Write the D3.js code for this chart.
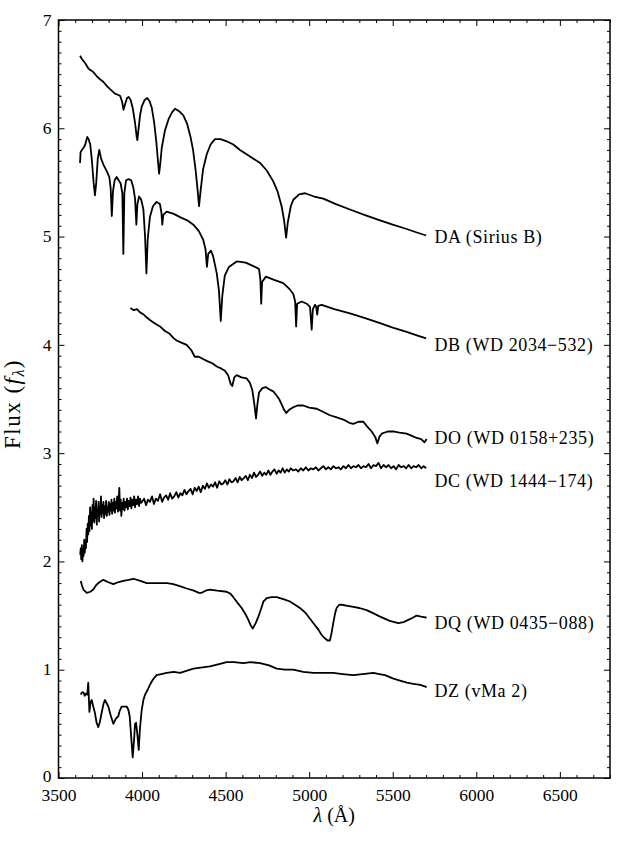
<!DOCTYPE html>
<html>
<head>
<meta charset="utf-8">
<script src="https://cdn.jsdelivr.net/npm/d3@7"></script>
<style>
  body { margin: 0; background: #fff; }
  text { font-family: "Liberation Serif", "DejaVu Serif", serif; fill: #000; }
</style>
</head>
<body>
<div id="chart"></div>
<script>
const width = 622;
const height = 848;
const margin = { top: 20, right: 12, bottom: 70, left: 58.5 };

// SPECTRA: [wavelength (Å), flux]
const daSpectrum = [
  [3629,6.67],[3640,6.64],[3660,6.60],[3680,6.55],[3708,6.52],[3730,6.48],[3750,6.45],[3768,6.43],
  [3790,6.39],[3810,6.36],[3838,6.32],[3855,6.31],[3868,6.30],[3880,6.25],[3889,6.17],[3898,6.22],
  [3910,6.28],[3920,6.29],[3932,6.26],[3945,6.18],[3958,6.05],[3968,5.92],[3972,5.89],[3978,5.98],
  [3988,6.12],[3998,6.20],[4015,6.26],[4031,6.28],[4045,6.25],[4058,6.19],[4072,6.06],[4085,5.88],
  [4095,5.70],[4102,5.58],[4108,5.66],[4118,5.82],[4137,5.98],[4160,6.09],[4180,6.15],[4197,6.18],
  [4220,6.16],[4247,6.12],[4270,6.04],[4290,5.92],[4305,5.80],[4320,5.62],[4333,5.42],[4341,5.28],
  [4350,5.42],[4365,5.62],[4387,5.76],[4410,5.85],[4436,5.90],[4470,5.90],[4506,5.88],[4546,5.85],
  [4586,5.80],[4646,5.74],[4706,5.68],[4746,5.61],[4785,5.51],[4810,5.42],[4835,5.28],[4850,5.15],
  [4862,4.99],[4872,5.13],[4890,5.28],[4905,5.34],[4940,5.39],[4975,5.40],[5030,5.37],[5084,5.35],
  [5160,5.30],[5244,5.25],[5330,5.20],[5424,5.15],[5500,5.11],[5583,5.07],[5640,5.04],[5700,5.01]
];

const dbSpectrum = [
  [3629,5.68],[3632,5.78],[3640,5.80],[3650,5.82],[3660,5.85],[3672,5.92],[3680,5.90],[3690,5.85],
  [3700,5.70],[3710,5.50],[3718,5.38],[3726,5.50],[3735,5.72],[3744,5.80],[3755,5.72],[3770,5.66],
  [3790,5.60],[3804,5.55],[3812,5.45],[3819,5.19],[3826,5.42],[3836,5.52],[3848,5.55],[3860,5.52],
  [3872,5.49],[3882,5.40],[3888,4.84],[3894,5.40],[3904,5.52],[3920,5.53],[3935,5.52],[3948,5.45],
  [3958,5.35],[3966,5.11],[3972,5.30],[3982,5.37],[3995,5.34],[4008,5.25],[4018,5.00],[4026,4.66],
  [4034,4.98],[4047,5.18],[4065,5.28],[4087,5.32],[4107,5.30],[4116,5.22],[4121,5.11],[4127,5.20],
  [4147,5.23],[4190,5.21],[4227,5.18],[4270,5.15],[4307,5.11],[4340,5.05],[4366,4.97],[4380,4.88],
  [4388,4.72],[4396,4.84],[4412,4.87],[4425,4.82],[4447,4.66],[4460,4.50],[4471,4.22],[4480,4.45],
  [4495,4.64],[4520,4.72],[4566,4.77],[4620,4.76],[4676,4.72],[4700,4.70],[4708,4.60],[4713,4.38],
  [4718,4.58],[4741,4.63],[4790,4.60],[4845,4.57],[4880,4.52],[4905,4.47],[4916,4.40],[4922,4.17],
  [4928,4.38],[4955,4.40],[4985,4.38],[5005,4.35],[5015,4.14],[5022,4.33],[5035,4.37],[5042,4.35],
  [5048,4.28],[5054,4.36],[5075,4.37],[5150,4.33],[5244,4.29],[5330,4.25],[5424,4.20],[5500,4.16],
  [5583,4.12],[5640,4.09],[5700,4.06]
];

const doSpectrum = [
  [3930,4.34],[3950,4.32],[3970,4.33],[3988,4.30],[4010,4.28],[4030,4.25],[4047,4.23],[4075,4.20],
  [4107,4.17],[4135,4.13],[4167,4.10],[4190,4.06],[4207,4.04],[4235,4.02],[4267,4.00],[4295,3.95],
  [4315,3.89],[4340,3.89],[4365,3.87],[4390,3.85],[4420,3.83],[4447,3.80],[4475,3.78],[4496,3.76],
  [4515,3.72],[4530,3.64],[4540,3.62],[4552,3.70],[4566,3.72],[4595,3.70],[4626,3.69],[4645,3.65],
  [4660,3.58],[4672,3.45],[4682,3.32],[4690,3.45],[4700,3.56],[4720,3.60],[4740,3.61],[4760,3.59],
  [4785,3.57],[4806,3.53],[4820,3.50],[4835,3.45],[4850,3.40],[4862,3.37],[4880,3.40],[4900,3.42],
  [4930,3.44],[4965,3.44],[5000,3.42],[5045,3.41],[5085,3.38],[5124,3.35],[5165,3.33],[5204,3.31],
  [5240,3.28],[5264,3.27],[5295,3.29],[5324,3.29],[5345,3.25],[5374,3.20],[5395,3.15],[5408,3.09],
  [5420,3.15],[5434,3.18],[5470,3.20],[5503,3.20],[5540,3.19],[5583,3.18],[5615,3.16],[5643,3.14],
  [5670,3.13],[5690,3.10],[5703,3.13]
];

const dcSpectrum = [
  [3630,2.06],[3633,2.12],[3636,2.02],[3640,2.15],[3643,2.00],[3647,2.10],[3650,2.05],[3654,2.20],
  [3657,2.08],[3661,2.18],[3664,2.12],[3668,2.30],[3671,2.18],[3675,2.35],[3678,2.25],[3682,2.42],
  [3685,2.28],[3689,2.50],[3692,2.33],[3696,2.45],[3700,2.30],[3703,2.52],[3707,2.38],[3710,2.58],
  [3714,2.36],[3718,2.50],[3721,2.40],[3725,2.56],[3729,2.34],[3732,2.48],[3736,2.42],[3740,2.55],
  [3743,2.37],[3747,2.50],[3751,2.44],[3754,2.60],[3758,2.41],[3762,2.52],[3765,2.45],[3769,2.55],
  [3773,2.40],[3777,2.51],[3781,2.44],[3785,2.56],[3789,2.42],[3793,2.50],[3797,2.46],[3801,2.55],
  [3805,2.43],[3809,2.53],[3813,2.47],[3817,2.57],[3821,2.44],[3826,2.54],[3830,2.47],[3834,2.58],
  [3838,2.45],[3843,2.55],[3847,2.49],[3851,2.60],[3856,2.46],[3860,2.56],[3864,2.68],[3868,2.47],
  [3872,2.57],[3876,2.42],[3881,2.54],[3885,2.48],[3890,2.58],[3895,2.47],[3900,2.55],[3905,2.50],
  [3910,2.58],[3915,2.48],[3920,2.56],[3926,2.51],[3931,2.59],[3936,2.49],[3942,2.57],[3947,2.52],
  [3953,2.60],[3958,2.50],[3964,2.57],[3970,2.53],[3976,2.60],[3982,2.51],[3988,2.58],[3994,2.54],
  [4000,2.55],[4012,2.58],[4024,2.52],[4035,2.57],[4047,2.55],[4060,2.60],[4071,2.53],[4083,2.58],
  [4095,2.56],[4108,2.62],[4120,2.55],[4131,2.59],[4144,2.61],[4156,2.57],[4168,2.63],[4180,2.58],
  [4192,2.60],[4205,2.64],[4217,2.59],[4229,2.63],[4241,2.61],[4254,2.66],[4266,2.62],[4278,2.65],
  [4290,2.67],[4303,2.62],[4315,2.68],[4327,2.65],[4339,2.69],[4351,2.64],[4364,2.70],[4376,2.67],
  [4388,2.72],[4400,2.68],[4413,2.71],[4425,2.69],[4437,2.73],[4449,2.68],[4462,2.74],[4474,2.71],
  [4486,2.72],[4498,2.75],[4511,2.71],[4523,2.76],[4535,2.73],[4547,2.74],[4560,2.77],[4572,2.73],
  [4584,2.78],[4596,2.75],[4609,2.77],[4621,2.79],[4633,2.75],[4645,2.80],[4658,2.77],[4670,2.82],
  [4682,2.78],[4694,2.80],[4707,2.83],[4719,2.79],[4731,2.82],[4743,2.80],[4756,2.84],[4768,2.80],
  [4780,2.83],[4792,2.85],[4805,2.81],[4817,2.84],[4829,2.82],[4841,2.86],[4854,2.82],[4866,2.85],
  [4878,2.83],[4890,2.86],[4903,2.84],[4920,2.85],[4935,2.83],[4950,2.86],[4965,2.84],[4980,2.87],
  [4995,2.84],[5010,2.86],[5025,2.85],[5040,2.87],[5055,2.84],[5070,2.86],[5085,2.88],[5100,2.85],
  [5115,2.87],[5130,2.85],[5145,2.88],[5160,2.86],[5175,2.87],[5190,2.85],[5205,2.88],[5220,2.86],
  [5235,2.89],[5250,2.86],[5265,2.88],[5280,2.87],[5295,2.89],[5310,2.86],[5325,2.88],[5340,2.87],
  [5355,2.90],[5370,2.86],[5385,2.89],[5400,2.88],[5415,2.91],[5430,2.86],[5445,2.89],[5460,2.87],
  [5475,2.89],[5490,2.86],[5505,2.88],[5520,2.85],[5535,2.89],[5550,2.87],[5565,2.88],[5580,2.86],
  [5595,2.89],[5610,2.86],[5625,2.88],[5640,2.87],[5655,2.89],[5670,2.86],[5685,2.88],[5700,2.86]
];

const dqSpectrum = [
  [3633,1.82],[3640,1.78],[3649,1.74],[3669,1.71],[3690,1.72],[3708,1.74],[3725,1.78],[3738,1.80],
  [3768,1.83],[3795,1.81],[3828,1.79],[3860,1.81],[3888,1.82],[3920,1.83],[3948,1.84],[3990,1.82],
  [4028,1.80],[4070,1.80],[4107,1.80],[4150,1.80],[4187,1.79],[4230,1.77],[4267,1.75],[4310,1.73],
  [4340,1.71],[4357,1.71],[4380,1.73],[4406,1.74],[4450,1.73],[4506,1.72],[4530,1.70],[4546,1.67],
  [4570,1.62],[4596,1.57],[4620,1.51],[4636,1.46],[4650,1.41],[4662,1.38],[4680,1.43],[4696,1.49],
  [4712,1.56],[4726,1.63],[4746,1.66],[4775,1.67],[4806,1.67],[4850,1.65],[4885,1.63],[4915,1.60],
  [4945,1.57],[4975,1.53],[5005,1.47],[5030,1.42],[5055,1.37],[5075,1.32],[5094,1.29],[5110,1.27],
  [5124,1.27],[5134,1.34],[5144,1.43],[5155,1.52],[5164,1.57],[5180,1.60],[5194,1.60],[5230,1.59],
  [5264,1.58],[5300,1.57],[5344,1.55],[5385,1.52],[5424,1.49],[5455,1.47],[5483,1.45],[5510,1.44],
  [5533,1.43],[5565,1.44],[5593,1.46],[5620,1.48],[5643,1.50],[5670,1.49],[5703,1.48]
];

const dzSpectrum = [
  [3633,0.77],[3640,0.79],[3649,0.79],[3657,0.76],[3665,0.78],[3672,0.77],[3678,0.88],[3685,0.61],
  [3692,0.70],[3699,0.72],[3708,0.66],[3718,0.60],[3728,0.51],[3738,0.47],[3748,0.52],[3758,0.60],
  [3770,0.69],[3778,0.72],[3788,0.69],[3798,0.66],[3812,0.58],[3828,0.50],[3840,0.54],[3850,0.56],
  [3858,0.57],[3866,0.62],[3878,0.66],[3895,0.66],[3908,0.66],[3918,0.63],[3926,0.57],[3934,0.40],
  [3944,0.19],[3952,0.35],[3958,0.50],[3964,0.51],[3972,0.40],[3980,0.26],[3987,0.45],[3998,0.63],
  [4008,0.72],[4018,0.77],[4032,0.81],[4047,0.86],[4065,0.91],[4087,0.95],[4115,0.96],[4147,0.97],
  [4190,0.98],[4227,0.97],[4265,0.99],[4307,1.01],[4350,1.02],[4406,1.03],[4455,1.05],[4506,1.07],
  [4550,1.07],[4606,1.06],[4650,1.07],[4706,1.06],[4760,1.04],[4806,1.01],[4855,1.00],[4905,1.00],
  [4965,0.98],[5025,0.97],[5085,0.97],[5144,0.97],[5200,0.96],[5264,0.95],[5320,0.96],[5384,0.97],
  [5420,0.96],[5454,0.95],[5500,0.92],[5543,0.90],[5585,0.88],[5623,0.87],[5665,0.86],[5703,0.84]
];

const spectra = [daSpectrum, dbSpectrum, doSpectrum, dcSpectrum, dqSpectrum, dzSpectrum];
const labelNames = ["DA (Sirius B)", "DB (WD 2034\u2212532)", "DO (WD 0158+235)",
  "DC (WD 1444\u2212174)", "DQ (WD 0435\u2212088)", "DZ (vMa 2)"];
const labelWave = [5750, 5750, 5750, 5750, 5750, 5750];
const labelFlux = [5.00, 4.00, 3.14, 2.75, 1.43, 0.81];

const xTicks = [3500, 4000, 4500, 5000, 5500, 6000, 6500];
const yTicks = [0, 1, 2, 3, 4, 5, 6, 7];

const svg = d3.select("#chart")
  .append("svg")
  .attr("width", width)
  .attr("height", height);

const x = d3.scaleLinear().domain([3500, 6800]).range([margin.left, width - margin.right]);
const y = d3.scaleLinear().domain([0, 7]).range([height - margin.bottom, margin.top]);

const x0 = x.range()[0], x1 = x.range()[1];
const y0 = y.range()[0], y1 = y.range()[1];

// МИНОРНЫЕ ТИКИ
const xMinor = d3.range(3500, 6801, 100).filter(v => v % 500 !== 0);
const yMinor = d3.range(0, 71, 1).map(v => v / 10).filter((v, i) => i % 10 !== 0);

function styleAxis(g) {
  g.select(".domain").remove();
  g.selectAll(".tick line").attr("stroke", "#000").attr("stroke-width", 1);
  g.selectAll(".tick text").style("font-size", "17.5px").attr("fill", "#000");
}

svg.append("g").attr("transform", `translate(0,${y0})`)
  .call(d3.axisBottom(x).tickValues(xTicks).tickFormat(d3.format("d")).tickSize(-6).tickPadding(10.5))
  .call(styleAxis);
svg.append("g").attr("transform", `translate(0,${y0})`)
  .call(d3.axisBottom(x).tickValues(xMinor).tickFormat("").tickSize(-3))
  .call(styleAxis);
svg.append("g").attr("transform", `translate(0,${y1})`)
  .call(d3.axisTop(x).tickValues(xTicks).tickFormat("").tickSize(-6))
  .call(styleAxis);
svg.append("g").attr("transform", `translate(0,${y1})`)
  .call(d3.axisTop(x).tickValues(xMinor).tickFormat("").tickSize(-3))
  .call(styleAxis);

const yAxis = svg.append("g").attr("transform", `translate(${x0},0)`)
  .call(d3.axisLeft(y).tickValues(yTicks).tickFormat(d3.format("d")).tickSize(-6).tickPadding(7))
  .call(styleAxis);
// "0" чуть выше, чтобы не наезжать на "3500"
yAxis.selectAll(".tick text").attr("dy", d => d === 0 ? "0.18em" : "0.3em");
svg.append("g").attr("transform", `translate(${x0},0)`)
  .call(d3.axisLeft(y).tickValues(yMinor).tickFormat("").tickSize(-3))
  .call(styleAxis);
svg.append("g").attr("transform", `translate(${x1},0)`)
  .call(d3.axisRight(y).tickValues(yTicks).tickFormat("").tickSize(-6))
  .call(styleAxis);
svg.append("g").attr("transform", `translate(${x1},0)`)
  .call(d3.axisRight(y).tickValues(yMinor).tickFormat("").tickSize(-3))
  .call(styleAxis);

// РАМКА
svg.append("rect")
  .attr("x", x0).attr("y", y1)
  .attr("width", x1 - x0).attr("height", y0 - y1)
  .attr("fill", "none").attr("stroke", "#000").attr("stroke-width", 1.5);

// СПЕКТРЫ
const line = d3.line().x(d => x(d[0])).y(d => y(d[1]));

svg.append("g")
  .selectAll("path")
  .data(spectra)
  .enter()
  .append("path")
  .attr("d", line)
  .attr("fill", "none")
  .attr("stroke", "#000")
  .attr("stroke-width", 1.8)
  .attr("stroke-linejoin", "round");

// ПОДПИСИ
svg.append("g")
  .selectAll("text")
  .data(labelNames)
  .enter()
  .append("text")
  .attr("x", (d, i) => x(labelWave[i]))
  .attr("y", (d, i) => y(labelFlux[i]))
  .attr("dy", "0.35em")
  .style("font-size", "18px")
  .style("letter-spacing", "0.6px")
  .text(d => d);

// ОСИ: ЗАГОЛОВКИ
const xLabel = svg.append("text")
  .attr("x", (x0 + x1) / 2)
  .attr("y", 822)
  .attr("text-anchor", "middle")
  .style("font-size", "20px");
xLabel.append("tspan").style("font-style", "italic").text("\u03bb");
xLabel.append("tspan").text(" (\u00c5)");

const yLabel = svg.append("text")
  .attr("transform", `translate(20,${(y0 + y1) / 2 + 5}) rotate(-90)`)
  .attr("text-anchor", "middle")
  .style("font-size", "23px")
  .style("letter-spacing", "1.5px");
yLabel.append("tspan").text("Flux (");
yLabel.append("tspan").style("font-style", "italic").text("f");
yLabel.append("tspan").style("font-style", "italic").style("font-size", "16px").attr("dy", 4).text("\u03bb");
yLabel.append("tspan").attr("dy", -4).text(")");
</script>
</body>
</html>
